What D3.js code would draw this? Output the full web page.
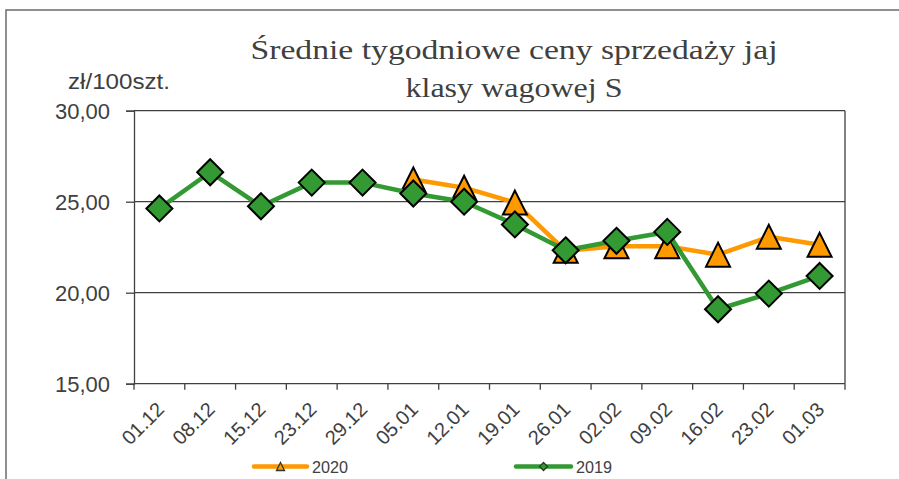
<!DOCTYPE html>
<html><head><meta charset="utf-8">
<script src="https://cdn.jsdelivr.net/npm/d3@7"></script>
<style>body{margin:0;background:#fff}svg{display:block}</style>
</head><body>
<script>
const categories = ["01.12","08.12","15.12","23.12","29.12","05.01","12.01","19.01","26.01","02.02","09.02","16.02","23.02","01.03"];
const values2020 = [null,null,null,null,null,26.22,25.77,24.95,22.3,22.55,22.55,22.09,23.07,22.63];
const values2019 = [24.63,26.62,24.75,26.05,26.05,25.45,25.0,23.75,22.33,22.85,23.34,19.09,19.95,20.92];
const yTicks = [15,20,25,30];
const titleLines = ["Średnie tygodniowe ceny sprzedaży jaj","klasy wagowej S"];
const yUnit = "zł/100szt.";
const seriesNames = ["2020","2019"];

const W=899,H=479;
const svg=d3.select("body").append("svg").attr("width",W).attr("height",H);
const textCol="#404040", lineCol="#404040";
const orange="#FF9900", green="#339933";

// outer frame
svg.append("rect").attr("x",6).attr("y",10).attr("width",1000).attr("height",1000)
  .attr("fill","none").attr("stroke","#6b6b6b").attr("stroke-width",1.5);

const x0=134,x1=845,yTop=110.7,yBot=383.7;
const xb=d3.scaleBand().domain(categories).range([x0,x1]).paddingInner(0).paddingOuter(0);
const xc=c=>xb(c)+xb.bandwidth()/2;
const y=d3.scaleLinear().domain([15,30]).range([yBot,yTop]);

// title
const titleWidths=[527,217];
const title=svg.append("g").attr("fill",textCol).attr("font-family","'Liberation Serif','Times New Roman',serif").attr("font-size",28);
titleLines.forEach((t,i)=>{
  title.append("text").attr("x",514).attr("y",59+i*37.5).attr("text-anchor","middle")
    .attr("textLength",titleWidths[i]).attr("lengthAdjust","spacingAndGlyphs").text(t);
});

// unit
svg.append("text").attr("x",68).attr("y",89).attr("fill",textCol).attr("font-family","Arial,'Liberation Sans',sans-serif").attr("font-size",22)
  .attr("textLength",102).attr("lengthAdjust","spacingAndGlyphs").text(yUnit);

// gridlines
svg.append("g").selectAll("line").data(yTicks.filter(v=>v>15)).join("line")
  .attr("x1",x0).attr("x2",x1).attr("y1",d=>y(d)).attr("y2",d=>y(d))
  .attr("stroke",lineCol).attr("stroke-width",1.3);
// right border
svg.append("line").attr("x1",x1).attr("x2",x1).attr("y1",yTop).attr("y2",yBot).attr("stroke",lineCol).attr("stroke-width",1.3);

// y axis
const yAxis=d3.axisLeft(y).tickValues(yTicks).tickSize(8).tickPadding(16).tickFormat(d=>d3.format(".2f")(d).replace(".",","));
const ga=svg.append("g").attr("transform",`translate(${x0},0)`).call(yAxis);
ga.select(".domain").attr("stroke",lineCol).attr("stroke-width",1.3);
ga.selectAll(".tick line").attr("stroke",lineCol).attr("stroke-width",1.3);
ga.selectAll(".tick text").attr("fill",textCol).attr("font-family","Arial,'Liberation Sans',sans-serif").attr("font-size",22).attr("dy","0.36em");

// x axis
svg.append("line").attr("x1",x0).attr("x2",x1).attr("y1",yBot).attr("y2",yBot).attr("stroke",lineCol).attr("stroke-width",1.3);
const bounds=categories.map(c=>xb(c)).concat([x1]);
svg.append("g").selectAll("line").data(bounds).join("line")
  .attr("x1",d=>d).attr("x2",d=>d).attr("y1",yBot).attr("y2",yBot+6).attr("stroke",lineCol).attr("stroke-width",1.3);
svg.append("g").selectAll("text").data(categories).join("text")
  .attr("transform",d=>`translate(${xc(d)+6},${yBot+27}) rotate(-45)`)
  .attr("text-anchor","end").attr("fill",textCol).attr("font-family","Arial,'Liberation Sans',sans-serif").attr("font-size",20).text(d=>d);

// series
const tri=(s)=>`M0,${-s/2}L${s/2},${s/2}L${-s/2},${s/2}Z`;
const dia=(s)=>`M0,${-s}L${s},0L0,${s}L${-s},0Z`;
const line=d3.line().defined(d=>d.v!=null).x(d=>xc(d.c)).y(d=>y(d.v));
function series(vals,color,shape){
  const data=categories.map((c,i)=>({c,v:vals[i]}));
  svg.append("path").datum(data).attr("d",line).attr("fill","none").attr("stroke",color).attr("stroke-width",4.5).attr("stroke-linejoin","round");
  svg.append("g").selectAll("path").data(data.filter(d=>d.v!=null)).join("path")
    .attr("transform",d=>`translate(${xc(d.c)},${y(d.v)})`).attr("d",shape)
    .attr("fill",color).attr("stroke","#000").attr("stroke-width",2).attr("stroke-linejoin","miter");
}
series(values2020,orange,tri(24));
series(values2019,green,dia(13));

// legend
const leg=[{n:seriesNames[0],c:orange,s:tri(8),x1:254,x2:307},{n:seriesNames[1],c:green,s:dia(4),x1:516,x2:571}];
leg.forEach(l=>{
  svg.append("line").attr("x1",l.x1).attr("x2",l.x2).attr("y1",466.5).attr("y2",466.5).attr("stroke",l.c).attr("stroke-width",4.5).attr("stroke-linecap","round");
  svg.append("path").attr("transform",`translate(${(l.x1+l.x2)/2},466.5)`).attr("d",l.s).attr("fill",l.c).attr("stroke","#333").attr("stroke-width",1.3);
  svg.append("text").attr("x",l.x2+5).attr("y",472.5).attr("fill",textCol).attr("font-family","Arial,'Liberation Sans',sans-serif").attr("font-size",17)
    .attr("textLength",36).attr("lengthAdjust","spacingAndGlyphs").text(l.n);
});
</script>
</body></html>
